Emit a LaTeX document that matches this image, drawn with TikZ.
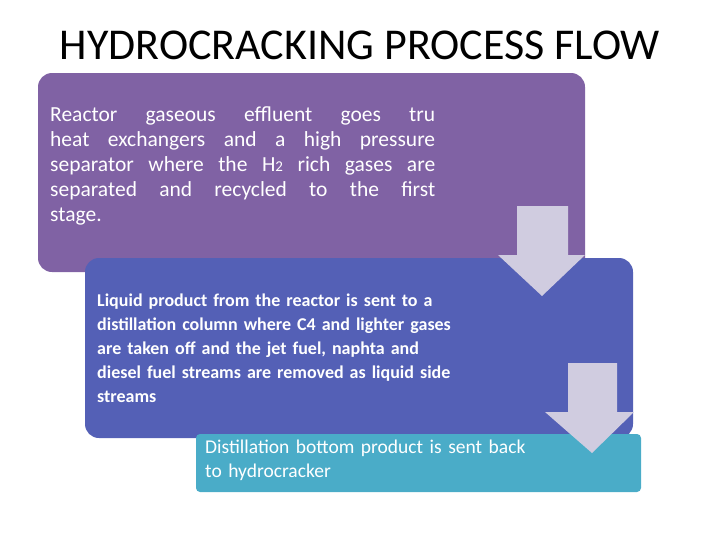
\documentclass[tikz,border=0pt]{standalone}
\usepackage{fontspec}
\setmainfont{Carlito}
\usetikzlibrary{positioning}
\definecolor{boxpurple}{RGB}{128,98,164}
\definecolor{boxblue}{RGB}{84,96,182}
\definecolor{boxteal}{RGB}{74,172,200}
\definecolor{arrowgray}{RGB}{208,204,224}

\begin{document}
\begin{tikzpicture}[x=1pt, y=-1pt,
    txt/.style={anchor=north west, text=white, inner sep=0pt},
    blockarrow/.style={fill=arrowgray, draw=none}
]
    \useasboundingbox (0,0) rectangle (720,539);
    \node[font=\fontsize{44}{48}\selectfont] (title) at (360,45) {HYDROCRACKING PROCESS FLOW};

    % stacked boxes
    \fill[boxpurple, rounded corners=14pt] (38,73) rectangle (585,272);
    \node[txt, text width=385pt, align=justify, font=\fontsize{21.5}{25}\selectfont] (first) at (50,106) {Reactor gaseous effluent goes tru\linebreak heat exchangers and a high pressure\linebreak separator where the H{\fontsize{15}{15}\selectfont 2} rich gases are\linebreak separated and recycled to the first\linebreak stage.};
    \fill[boxblue, rounded corners=14pt] (85,258) rectangle (633,438);
    \node[txt, text width=440pt, align=left, font=\fontsize{18}{24}\selectfont\bfseries] (second) at (97,294) {Liquid product from the reactor is sent to a\\distillation column where C4 and lighter gases\\are taken off and the jet fuel, naphta and\\diesel fuel streams are removed as liquid side\\streams};
    \fill[boxteal, rounded corners=4pt] (196,434) rectangle (641,492);
    \node[txt, text width=420pt, align=left, font=\fontsize{19.5}{24}\selectfont] (third) at (205,440) {Distillation bottom product is sent back\\to hydrocracker};

    % down arrows
    \fill[blockarrow] (517,206) -- (568,206) -- (568,255) -- (585,255) -- (542,296) -- (498,255) -- (517,255) -- cycle;
    \fill[blockarrow] (568,363) -- (617,363) -- (617,412) -- (634,412) -- (592,453) -- (545,412) -- (568,412) -- cycle;
\end{tikzpicture}
\end{document}
